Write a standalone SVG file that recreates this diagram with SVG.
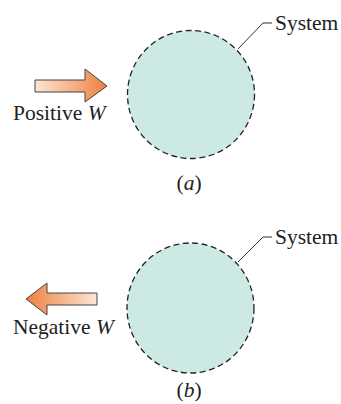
<svg xmlns="http://www.w3.org/2000/svg" width="341" height="404" viewBox="0 0 341 404">
<defs>
<linearGradient id="gR" x1="0" y1="0" x2="1" y2="0">
<stop offset="0" stop-color="#fde6d4"/>
<stop offset="1" stop-color="#ef8040"/>
</linearGradient>
<linearGradient id="gL" x1="1" y1="0" x2="0" y2="0">
<stop offset="0" stop-color="#fde6d4"/>
<stop offset="1" stop-color="#ef8040"/>
</linearGradient>
</defs>
<style>
.sys{fill:#cde9e4;stroke:#222;stroke-width:1.3;stroke-dasharray:6 3.5}
.lead{fill:none;stroke:#333;stroke-width:1}
.arr{stroke:#444;stroke-width:1;stroke-linejoin:miter}
text{font-family:"Liberation Serif","Times New Roman",serif;font-size:21.5px;fill:#222}
.it{font-style:italic}
</style>
<rect width="341" height="404" fill="#fff"/>
<g id="connectors">
<polyline class="lead" points="238,49 263,23 272,23"/>
<polyline class="lead" points="238,262 263,237 272,237"/>
</g>
<g id="systemA">
<ellipse class="sys" cx="191" cy="94.5" rx="63.5" ry="64"/>
<text x="275" y="30">System</text>
</g>
<g id="arrowA">
<polygon class="arr" fill="url(#gR)" points="35,80 85,80 85,69 107,86 85,102 85,92 35,92"/>
<text x="13" y="120">Positive <tspan class="it">W</tspan></text>
</g>
<g id="labelA"><text x="189" y="190" text-anchor="middle">(<tspan class="it">a</tspan>)</text></g>
<g id="systemB">
<ellipse class="sys" cx="190.5" cy="308" rx="63.5" ry="65"/>
<text x="275" y="244">System</text>
</g>
<g id="arrowB">
<polygon class="arr" fill="url(#gL)" points="97,293 47,293 47,283 26,299 47,315 47,305 97,305"/>
<text x="13" y="334">Negative <tspan class="it">W</tspan></text>
</g>
<g id="labelB"><text x="189" y="397" text-anchor="middle">(<tspan class="it">b</tspan>)</text></g>
</svg>
